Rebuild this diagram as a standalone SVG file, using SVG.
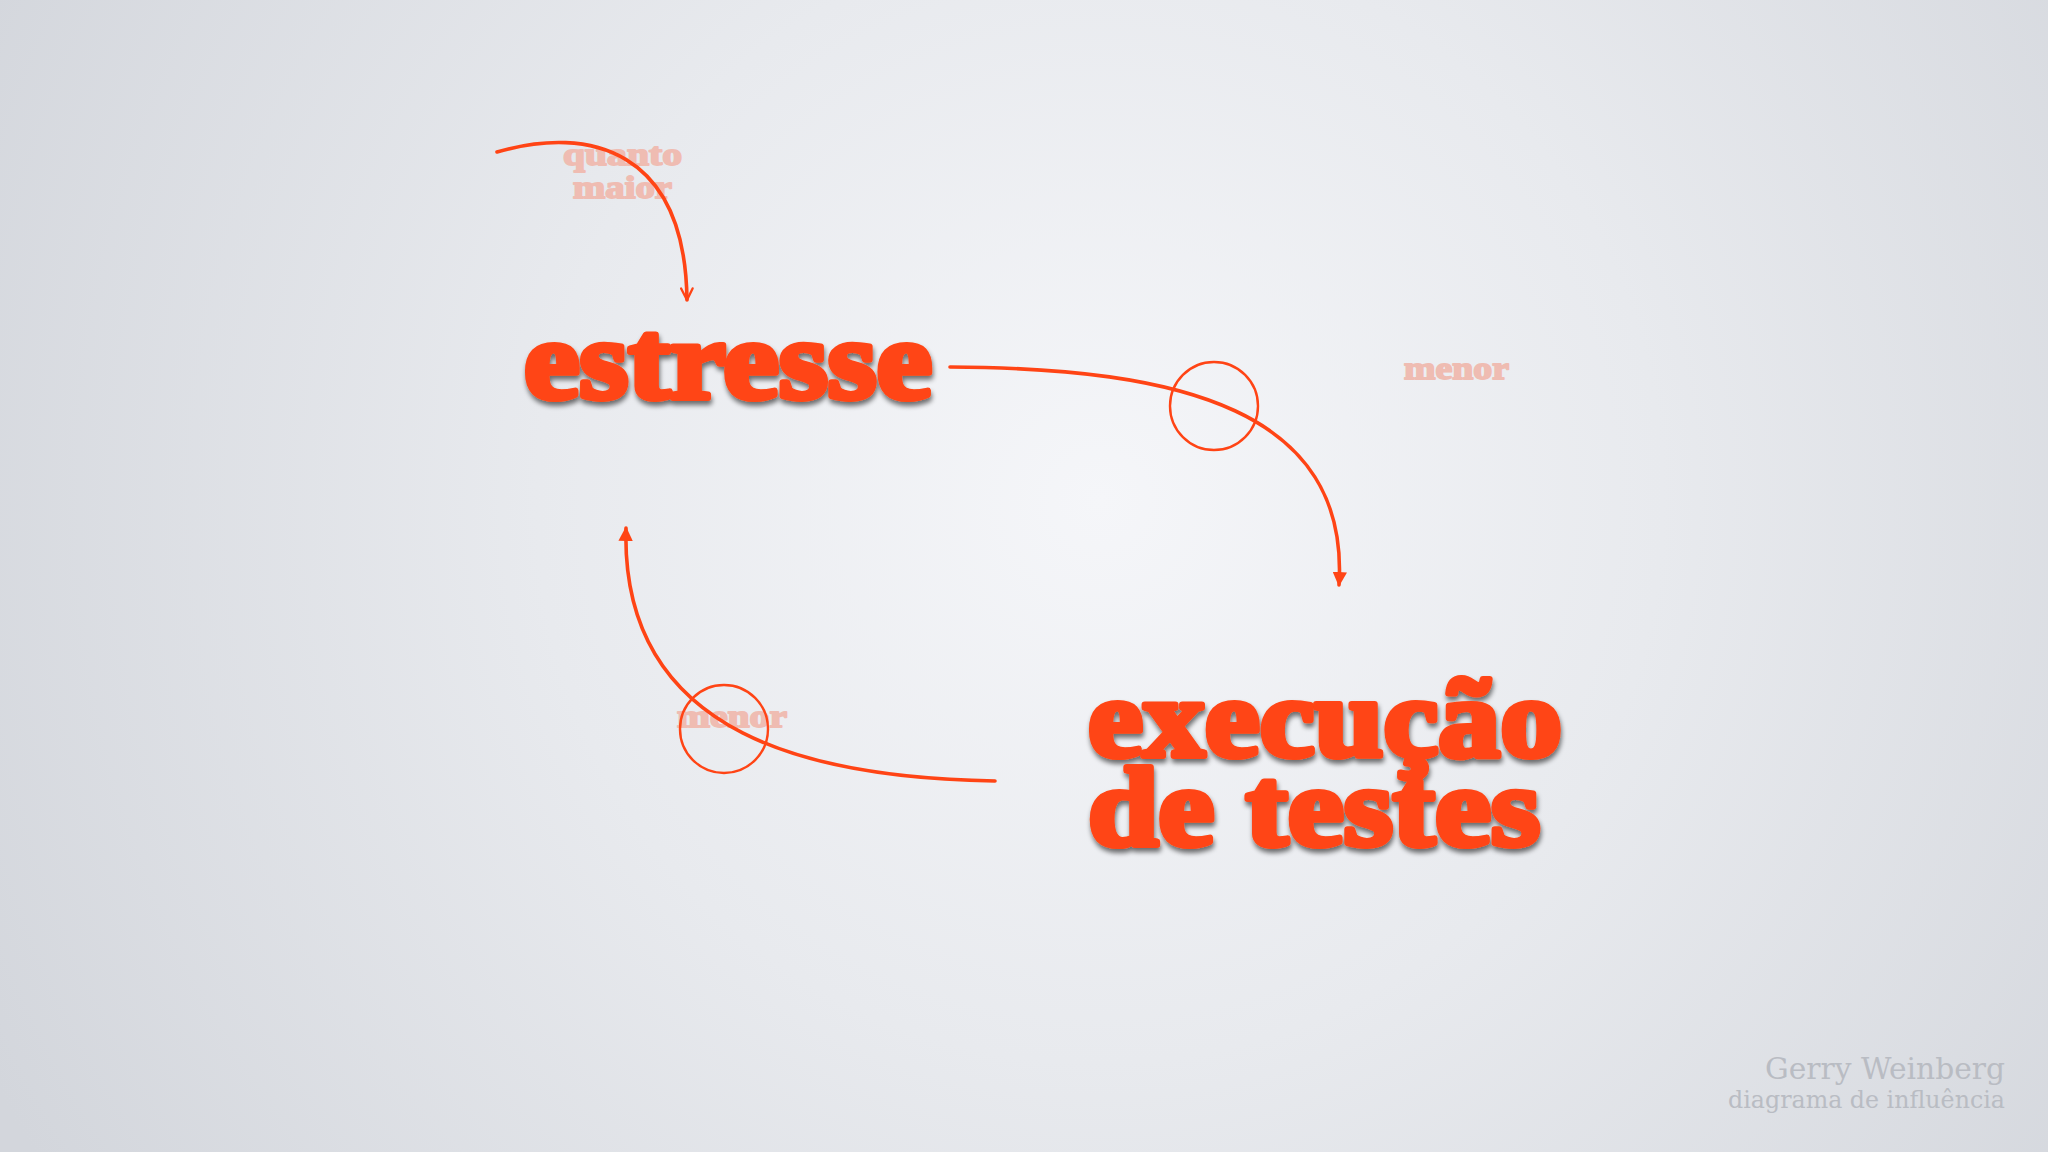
<svg xmlns="http://www.w3.org/2000/svg" width="2048" height="1152" viewBox="0 0 2048 1152">
  <defs>
    <radialGradient id="bg" cx="1100" cy="500" r="1250" gradientUnits="userSpaceOnUse">
      <stop offset="0" stop-color="#f5f6f9"/>
      <stop offset="0.45" stop-color="#e8eaee"/>
      <stop offset="1" stop-color="#d3d6dc"/>
    </radialGradient>
    <filter id="shadow" x="-10%" y="-20%" width="120%" height="150%">
      <feGaussianBlur in="SourceAlpha" stdDeviation="2.5"/>
      <feOffset dx="1" dy="4" result="b"/>
      <feComponentTransfer><feFuncA type="linear" slope="0.55"/></feComponentTransfer>
      <feMerge><feMergeNode/><feMergeNode in="SourceGraphic"/></feMerge>
    </filter>
    <marker id="tri" viewBox="0 0 10 10" refX="9" refY="5" markerWidth="4" markerHeight="4" orient="auto" markerUnits="strokeWidth">
      <path d="M0,0 L10,5 L0,10 Z" fill="#ff4415"/>
    </marker>
    <marker id="vee" viewBox="0 0 10 10" refX="9" refY="5" markerWidth="4" markerHeight="4" orient="auto" markerUnits="strokeWidth">
      <path d="M1,1 L9,5 L1,9" fill="none" stroke="#ff4415" stroke-width="1.6" stroke-linejoin="round" stroke-linecap="round"/>
    </marker>
    <style>
      .big { font-family: "Liberation Serif", "DejaVu Serif", serif; font-weight: bold; font-size: 112px; fill: #ff4513; stroke: #ff4513; stroke-width: 6; stroke-linejoin: round; }
      .lbl { font-family: "Liberation Serif", "DejaVu Serif", serif; font-weight: bold; font-size: 32px; fill: #efbcb2; stroke: #efbcb2; stroke-width: 1.8; stroke-linejoin: round; }
      .conn { fill: none; stroke: #ff4415; stroke-width: 3.6; stroke-linecap: round; }
      .ring { fill: none; stroke: #ff4415; stroke-width: 2.4; }
      .foot { font-family: "DejaVu Serif", "Liberation Serif", serif; fill: #b9bcc3; text-anchor: end; }
    </style>
  </defs>
  <rect width="2048" height="1152" fill="url(#bg)"/>

  <g id="label-quanto-maior">
    <text class="lbl" x="563" y="165" textLength="119" lengthAdjust="spacingAndGlyphs">quanto</text>
    <text class="lbl" x="573" y="198" textLength="99" lengthAdjust="spacingAndGlyphs">maior</text>
  </g>
  <g id="label-menor-1">
    <text class="lbl" x="1404" y="379" textLength="105" lengthAdjust="spacingAndGlyphs">menor</text>
  </g>
  <g id="label-menor-2">
    <text class="lbl" x="677" y="727" textLength="110" lengthAdjust="spacingAndGlyphs">menor</text>
  </g>

  <g id="connectors">
    <path class="conn" d="M497,152 C590,125 685,150 687,300" marker-end="url(#vee)"/>
    <path class="conn" d="M950,367 C1180,368 1350,410 1339,585" marker-end="url(#tri)"/>
    <circle class="ring" cx="1214" cy="406" r="44"/>
    <path class="conn" d="M995,781 C820,778 620,740 626,528" marker-end="url(#tri)"/>
    <circle class="ring" cx="724" cy="729" r="44"/>
  </g>

  <g id="node-estresse" filter="url(#shadow)">
    <text class="big" x="524" y="398" textLength="408" lengthAdjust="spacingAndGlyphs">estresse</text>
  </g>
  <g id="node-execucao" filter="url(#shadow)">
    <text class="big" x="1088" y="756" textLength="474" lengthAdjust="spacingAndGlyphs">execução</text>
    <text class="big" x="1088" y="845" textLength="452" lengthAdjust="spacingAndGlyphs">de testes</text>
  </g>

  <g id="footer">
    <text class="foot" x="2005" y="1079" font-size="30" textLength="240" lengthAdjust="spacingAndGlyphs">Gerry Weinberg</text>
    <text class="foot" x="2005" y="1108" font-size="25" textLength="277" lengthAdjust="spacingAndGlyphs">diagrama de influência</text>
  </g>
</svg>
